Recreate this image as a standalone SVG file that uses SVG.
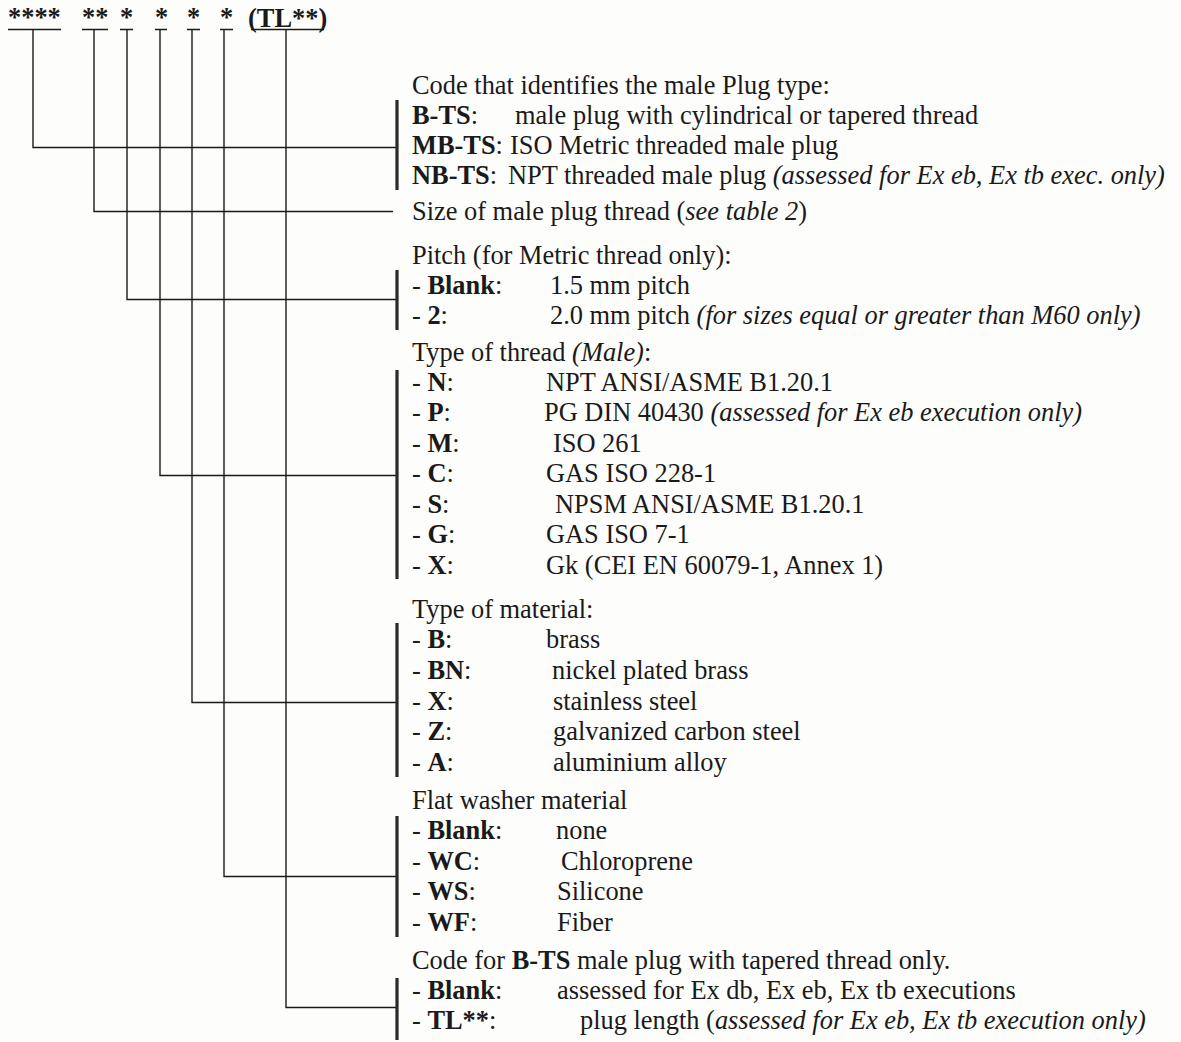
<svg xmlns="http://www.w3.org/2000/svg" width="1181" height="1042" viewBox="0 0 1181 1042">
<style>
text{font-family:"Liberation Serif","Times New Roman",serif;font-size:26.4px;fill:#1a1a1a}
.b{font-weight:bold}
.i{font-style:italic}
.ln{stroke:#1a1a1a;stroke-width:1.4;fill:none}
.bar{stroke:#2a2a2a;stroke-width:3.2;fill:none}
</style>
<rect width="1181" height="1042" fill="#fdfdfb"/>
<g id="code">
<text class="b" x="8" y="26">****</text>
<text class="b" x="82" y="26">**</text>
<text class="b" x="120" y="26">*</text>
<text class="b" x="155" y="26">*</text>
<text class="b" x="187" y="26">*</text>
<text class="b" x="220" y="26">*</text>
<text class="b" x="248" y="27">(TL**)</text>
</g>
<g id="connectors">
<path class="ln" d="M8 29.5H61M82 29.5H108M120 29.5H133M155 29.5H167M187 29.5H200M220 29.5H233M251 29.5H324"/>
<path class="ln" d="M33 29.5V147.5H397"/>
<path class="ln" d="M94 29.5V211.5H393"/>
<path class="ln" d="M127 29.5V299.5H397"/>
<path class="ln" d="M160 29.5V475.5H397"/>
<path class="ln" d="M192 29.5V702.5H397"/>
<path class="ln" d="M224 29.5V876.5H397"/>
<path class="ln" d="M286 29.5V1007.5H397"/>
<path class="bar" d="M397 100V190M397 270V330M397 370V579M397 623V777M397 816V937M397 978V1040"/>
</g>
<g id="plug-type">
<text x="412" y="94">Code that identifies the male Plug type:</text>
<text x="412" y="124"><tspan class="b">B-TS</tspan>:<tspan x="515">male plug with cylindrical or tapered thread</tspan></text>
<text x="412" y="154"><tspan class="b">MB-TS</tspan>:<tspan x="510">ISO Metric threaded male plug</tspan></text>
<text x="412" y="184"><tspan class="b">NB-TS</tspan>:<tspan x="508">NPT threaded male plug </tspan><tspan class="i">(assessed for Ex eb, Ex tb exec. only)</tspan></text>
</g>
<g id="size">
<text x="412" y="220">Size of male plug thread (<tspan class="i">see table 2</tspan>)</text>
</g>
<g id="pitch">
<text x="412" y="264">Pitch (for Metric thread only):</text>
<text x="412" y="294">- <tspan class="b">Blank</tspan>:<tspan x="550">1.5 mm pitch</tspan></text>
<text x="412" y="324">- <tspan class="b">2</tspan>:<tspan x="550">2.0 mm pitch </tspan><tspan class="i">(for sizes equal or greater than M60 only)</tspan></text>
</g>
<g id="thread">
<text x="412" y="361">Type of thread <tspan class="i">(Male)</tspan>:</text>
<text x="412" y="391">- <tspan class="b">N</tspan>:<tspan x="546">NPT ANSI/ASME B1.20.1</tspan></text>
<text x="412" y="421">- <tspan class="b">P</tspan>:<tspan x="544">PG DIN 40430 </tspan><tspan class="i">(assessed for Ex eb execution only)</tspan></text>
<text x="412" y="452">- <tspan class="b">M</tspan>:<tspan x="553">ISO 261</tspan></text>
<text x="412" y="482">- <tspan class="b">C</tspan>:<tspan x="546">GAS ISO 228-1</tspan></text>
<text x="412" y="513">- <tspan class="b">S</tspan>:<tspan x="555">NPSM ANSI/ASME B1.20.1</tspan></text>
<text x="412" y="543">- <tspan class="b">G</tspan>:<tspan x="546">GAS ISO 7-1</tspan></text>
<text x="412" y="574">- <tspan class="b">X</tspan>:<tspan x="546">Gk (CEI EN 60079-1, Annex 1)</tspan></text>
</g>
<g id="material">
<text x="412" y="618">Type of material:</text>
<text x="412" y="648">- <tspan class="b">B</tspan>:<tspan x="546">brass</tspan></text>
<text x="412" y="679">- <tspan class="b">BN</tspan>:<tspan x="552">nickel plated brass</tspan></text>
<text x="412" y="710">- <tspan class="b">X</tspan>:<tspan x="553">stainless steel</tspan></text>
<text x="412" y="740">- <tspan class="b">Z</tspan>:<tspan x="553">galvanized carbon steel</tspan></text>
<text x="412" y="771">- <tspan class="b">A</tspan>:<tspan x="553">aluminium alloy</tspan></text>
</g>
<g id="washer">
<text x="412" y="809">Flat washer material</text>
<text x="412" y="839">- <tspan class="b">Blank</tspan>:<tspan x="556">none</tspan></text>
<text x="412" y="870">- <tspan class="b">WC</tspan>:<tspan x="561">Chloroprene</tspan></text>
<text x="412" y="900">- <tspan class="b">WS</tspan>:<tspan x="557">Silicone</tspan></text>
<text x="412" y="931">- <tspan class="b">WF</tspan>:<tspan x="557">Fiber</tspan></text>
</g>
<g id="tl-code">
<text x="412" y="969">Code for <tspan class="b">B-TS</tspan> male plug with tapered thread only.</text>
<text x="412" y="999">- <tspan class="b">Blank</tspan>:<tspan x="557">assessed for Ex db, Ex eb, Ex tb executions</tspan></text>
<text x="412" y="1029">- <tspan class="b">TL**</tspan>:<tspan x="580">plug length (</tspan><tspan class="i">assessed for Ex eb, Ex tb execution only)</tspan></text>
</g>
</svg>
